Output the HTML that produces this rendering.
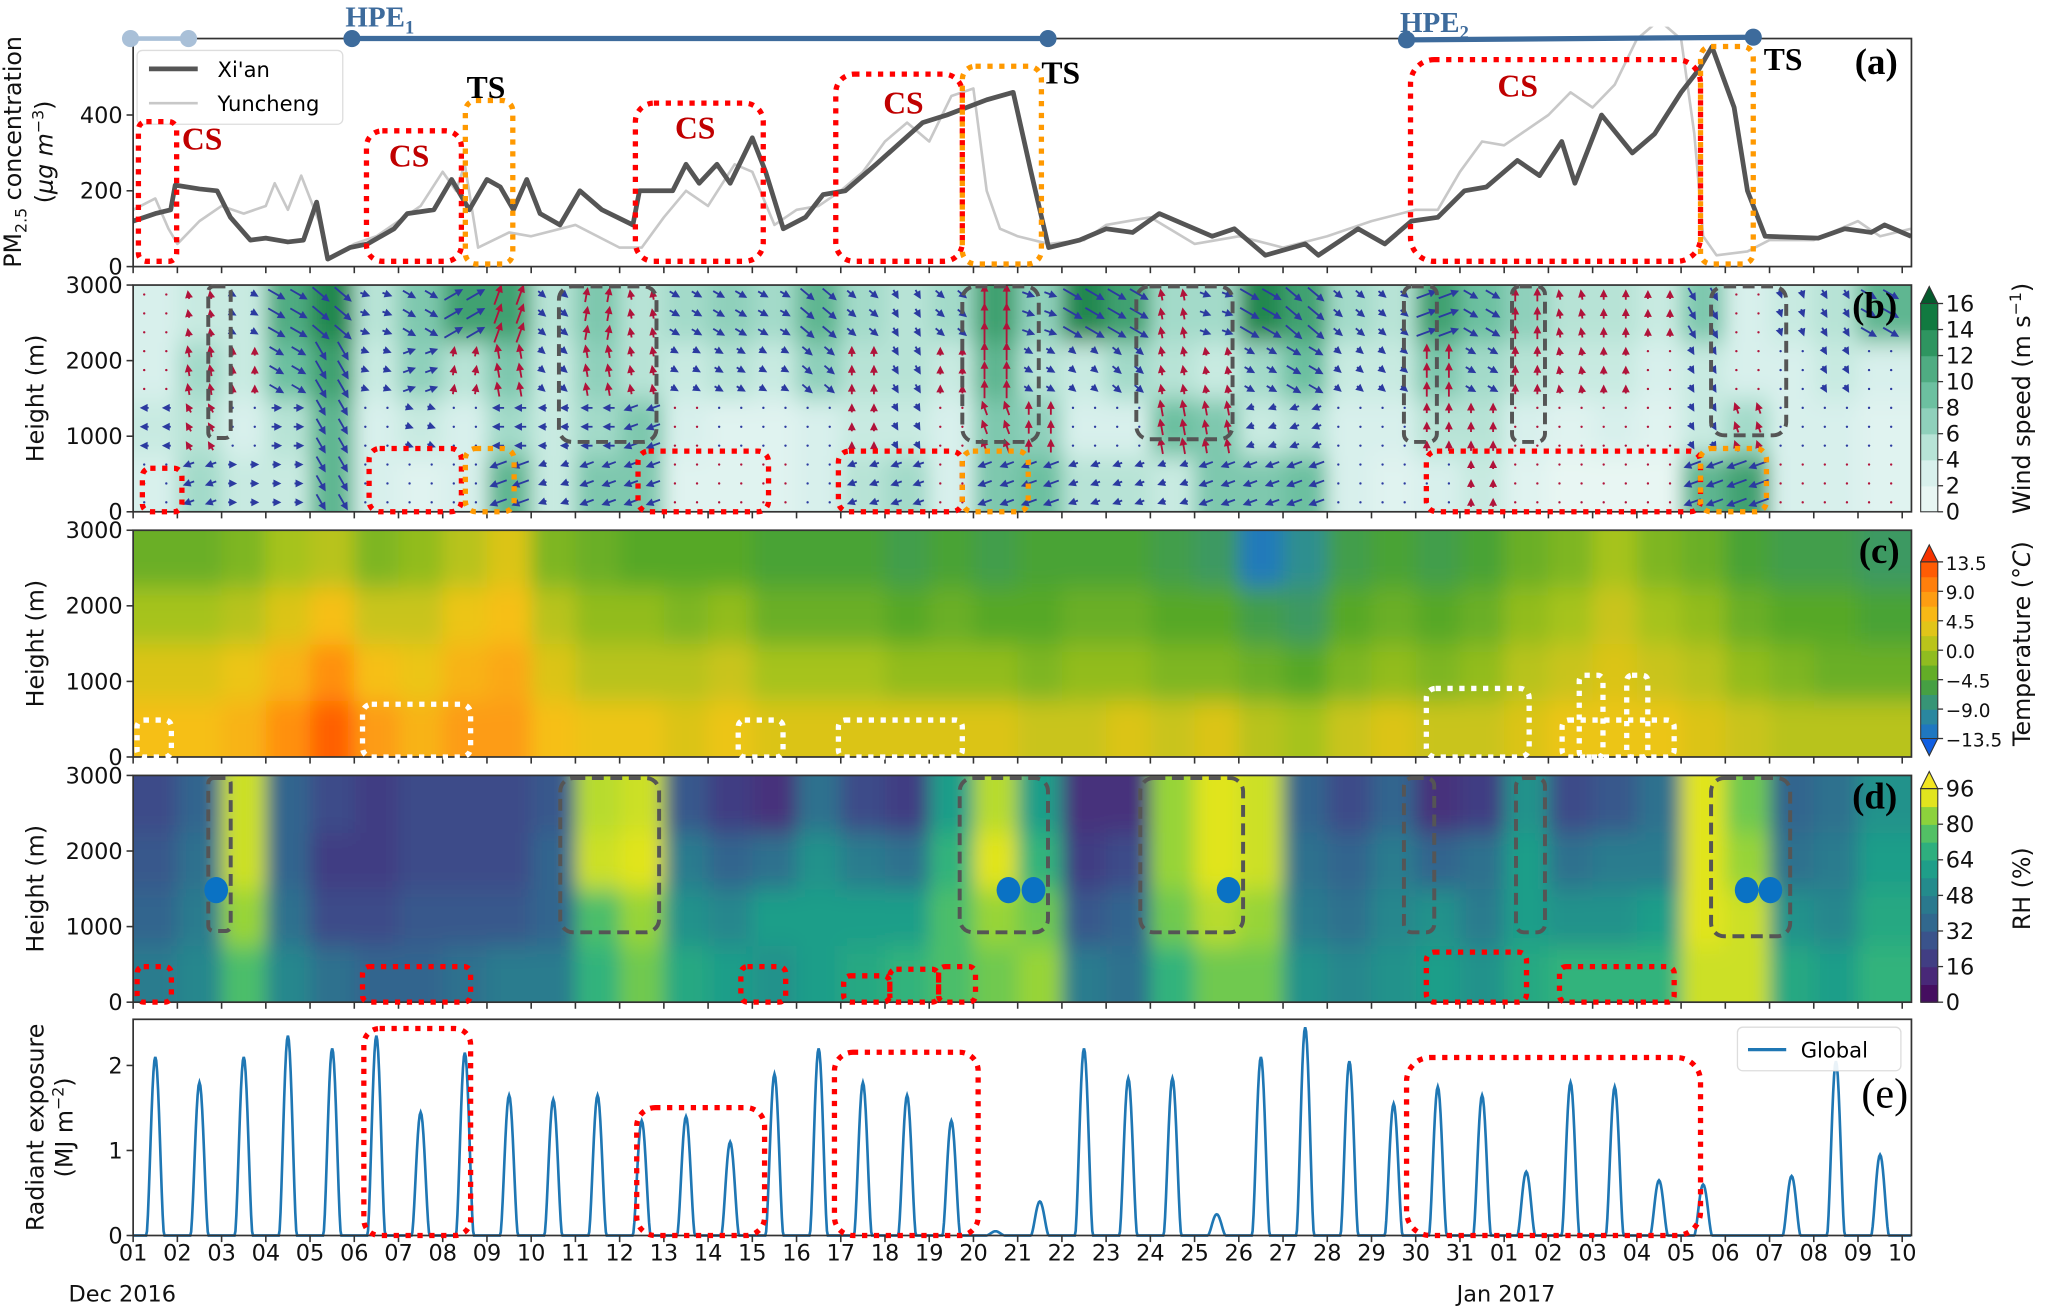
<!DOCTYPE html>
<html><head><meta charset="utf-8"><title>Pollution episode figure</title>
<style>
html,body{margin:0;padding:0;background:#fff;}
svg{display:block;font-family:"DejaVu Sans","Liberation Sans",sans-serif;}
</style></head>
<body>
<svg id="fig" xmlns="http://www.w3.org/2000/svg" width="2067" height="1307" viewBox="0 0 1568 991">
<defs>
<filter id="blur" x="-5%" y="-10%" width="110%" height="120%"><feGaussianBlur stdDeviation="7 9"/></filter>
<clipPath id="clipb"><rect x="101" y="216" width="1349" height="172"/></clipPath>
<clipPath id="clipc"><rect x="101" y="402" width="1349" height="172"/></clipPath>
<clipPath id="clipd"><rect x="101" y="588" width="1349" height="172"/></clipPath>
</defs>
</svg>
<script>
// ---------- DATA ----------
const dayLabels=["01","02","03","04","05","06","07","08","09","10","11","12","13","14","15","16","17","18","19","20","21","22","23","24","25","26","27","28","29","30","31","01","02","03","04","05","06","07","08","09","10"];
const xianDays=[0,0.5,0.85,0.95,1.5,1.9,2.2,2.65,3.0,3.5,3.85,4.15,4.4,4.9,5.3,5.9,6.2,6.8,7.2,7.6,8.0,8.3,8.6,8.9,9.2,9.65,10.1,10.6,11.3,11.45,12.2,12.5,12.8,13.2,13.5,14.0,14.3,14.7,15.2,15.6,16.1,16.8,17.85,18.4,19.3,19.9,20.3,20.7,21.4,22.0,22.6,23.2,24.4,24.9,25.6,26.5,26.8,27.7,28.3,28.9,29.5,30.1,30.6,31.3,31.8,32.3,32.6,33.2,33.9,34.4,35.0,35.4,35.7,36.2,36.5,36.9,38.1,38.7,39.3,39.6,40.2];
const xianVals=[120,140,150,215,205,200,130,70,75,65,70,170,20,50,60,100,140,150,230,150,230,210,150,230,140,110,200,150,110,200,200,270,220,270,220,340,250,100,130,190,200,270,380,400,440,460,250,50,70,100,90,140,80,100,30,60,30,100,60,120,130,200,210,280,240,330,220,400,300,350,460,520,580,420,200,80,75,100,90,110,80];
const ycDays=[0,0.5,0.8,1.0,1.5,2.0,2.5,3.0,3.2,3.5,3.8,4.2,4.4,5.0,5.5,6.0,6.5,7.0,7.3,7.5,7.8,8.5,9.0,10.0,11.0,11.5,12.0,12.5,13.0,13.6,14.0,14.5,15.0,15.5,16.0,16.5,17.0,17.5,18.0,18.5,19.0,19.3,19.6,20.0,20.7,21.5,22.0,23.0,24.0,25.0,26.0,27.0,28.0,29.0,29.5,30.0,30.5,31.0,31.5,32.0,32.5,33.0,33.5,34.0,34.5,35.0,35.3,35.5,35.8,36.5,37.0,38.0,39.0,39.5,40.2];
const ycVals=[150,180,100,60,120,160,140,160,220,150,240,120,20,60,80,120,160,250,200,270,50,90,80,110,50,50,130,200,160,270,250,110,150,160,200,250,330,380,330,450,470,200,100,80,60,70,110,130,60,80,50,80,120,150,150,250,330,320,360,400,460,420,480,600,650,600,350,80,30,40,70,70,120,80,100];
const radPeaks=[2.1,1.8,2.1,2.35,2.2,2.35,1.45,2.15,1.65,1.6,1.65,1.35,1.4,1.1,1.9,2.2,1.8,1.65,1.35,0.05,0.4,2.2,1.85,1.85,0.25,2.1,2.45,2.05,1.55,1.75,1.65,0.75,1.8,1.75,0.65,0.6,0,0.7,2.05,0.95];
const windR0=[3,6,4,4,10,3,2,3,10,4,8,8,2,2,2,3,5,6,3,8,9,5,5,4,8,8,9,3,2,3,4,2,1,1,1,10,12,3,3,2];
const windR1=[4,5,3,5,10,3,4,3,6,4,6,8,3,2,2,3,4,4,3,8,7,3,3,9,8,4,5,3,3,5,5,3,2,3,2,4,6,3,3,2];
const windR2=[3,6,4,9,12,4,7,5,8,4,7,5,4,5,4,7,5,5,4,10,5,4,6,5,4,6,9,4,4,8,6,5,4,4,3,4,3,3,4,3];
const windR3=[3,4,4,11,14,5,8,12,12,5,8,5,6,7,6,10,6,5,6,12,7,14,12,6,6,14,12,6,5,12,9,7,5,5,4,8,3,4,5,10];
const dirR0=[200,200,0,0,-60,200,0,0,200,200,200,200,90,90,90,200,200,200,90,200,200,200,200,200,200,200,200,200,200,200,90,90,90,90,90,200,200,90,90,90];
const dirR1=[180,120,0,0,-60,0,-20,0,180,180,180,200,90,-40,-40,-40,90,-60,90,110,90,-40,-40,100,100,200,200,-40,-40,90,90,90,90,90,90,-60,110,-60,-60,-80];
const dirR2=[100,100,90,-30,-60,-20,20,80,100,-40,100,100,-30,-30,-30,-40,90,-60,90,90,-30,-40,-40,100,100,-30,-30,-40,-40,90,-30,90,100,90,90,-60,110,-60,-60,-80];
const dirR3=[100,100,-30,-30,-40,-20,-30,30,70,-40,80,100,-30,-30,-30,-40,-40,-60,-40,90,-20,-30,-30,100,-20,-30,-40,-40,-40,20,-30,90,100,90,90,-60,100,-70,-60,-30];
const tempR0=[5,5,6,9,12,8,6,8,8,5,4,4,3,4,3,3,3,3,3,3,2,2,3,2,3,1,0,2,3,2,2,3,4,4,4,3,2,1,1,1];
const tempR1=[3,3,4,6,9,5,4,6,7,3,1,1,1,2,0,0,0,-1,-1,-1,-2,-1,-1,-2,-2,-3,-4,-2,-1,-2,-1,1,2,3,2,1,-1,-2,-3,-3];
const tempR2=[0,0,1,3,5,2,2,4,5,1,-1,-1,-2,-1,-3,-3,-3,-4,-3,-4,-4,-3,-3,-4,-4,-6,-7,-4,-3,-4,-3,-1,0,2,0,-1,-3,-4,-4,-5];
const tempR3=[-3,-3,-2,0,1,-2,-1,1,3,-2,-3,-4,-4,-4,-5,-5,-5,-6,-5,-6,-5,-5,-5,-6,-7,-12,-9,-6,-5,-6,-5,-3,-2,0,-2,-3,-5,-6,-6,-7];
const rhR0=[45,50,75,50,40,35,35,40,45,45,70,80,65,60,55,60,65,70,75,80,85,45,40,70,80,80,55,50,55,60,55,65,70,70,70,90,90,65,60,70];
const rhR1=[35,45,85,40,25,25,30,30,30,35,75,85,55,50,60,60,60,60,75,85,80,30,35,80,88,85,45,40,50,55,45,60,55,55,60,92,90,55,50,65];
const rhR2=[30,40,90,35,20,20,25,25,25,35,90,92,45,35,40,55,45,40,70,92,70,20,25,85,92,90,40,35,45,35,40,60,40,45,45,92,85,40,45,60];
const rhR3=[25,35,90,35,25,20,25,25,25,30,88,90,30,20,15,40,25,20,60,88,60,15,15,85,92,90,35,25,35,15,20,55,25,30,40,92,80,35,40,55];
const pmTicks=[0,200,400];
const hTicks=[0,1000,2000,3000];
const radTicks=[0,1,2];
const windCbTicks=[0,2,4,6,8,10,12,14,16];
const tempCbTicks=[-13.5,-9.0,-4.5,0.0,4.5,9.0,13.5];
const rhCbTicks=[0,16,32,48,64,80,96];

// ---------- HELPERS ----------
const NS='http://www.w3.org/2000/svg';
const svg=document.getElementById('fig');
function mk(tag,attrs,parent){const e=document.createElementNS(NS,tag);for(const k in attrs)e.setAttribute(k,attrs[k]);(parent||svg).appendChild(e);return e;}
function txt(s,attrs,parent){const e=mk('text',attrs,parent);e.textContent=s;return e;}
const L=101,R=1450,DX=33.55;
const xd=d=>L+DX*d;
const P={a:[29,202],b:[216,388],c:[402,574],d:[588,760],e:[773,937]};
const yPM=v=>202-v*0.2875;
const yRad=v=>937-v*64.5;
const yH=(p,h)=>P[p][1]-h/3000*(P[p][1]-P[p][0]);
function lerpC(stops,v){
  if(v<=stops[0][0]){const a=stops[0][1];return `rgb(${a[0]},${a[1]},${a[2]})`;}
  for(let i=1;i<stops.length;i++){if(v<=stops[i][0]){const t=(v-stops[i-1][0])/(stops[i][0]-stops[i-1][0]);const a=stops[i-1][1],b=stops[i][1];const c=[0,1,2].map(k=>Math.round(a[k]+(b[k]-a[k])*t));return `rgb(${c[0]},${c[1]},${c[2]})`;}}
  const a=stops[stops.length-1][1];return `rgb(${a[0]},${a[1]},${a[2]})`;}
const windStops=[[0,[240,249,247]],[3,[216,240,236]],[5,[183,227,214]],[7,[143,208,187]],[9,[108,192,160]],[11,[79,172,130]],[13,[46,149,96]],[15,[17,122,64]],[17,[4,90,44]]];
const tempStops=[[-16,[0,70,255]],[-13.5,[26,111,208]],[-9,[47,143,143]],[-4.5,[77,165,42]],[0,[166,195,28]],[4.5,[245,197,24]],[9,[255,144,16]],[13.5,[255,74,0]],[16,[232,16,0]]];
const rhStops=[[0,[68,1,84]],[12,[72,40,120]],[24,[62,73,137]],[36,[49,104,142]],[48,[38,130,142]],[60,[31,158,137]],[72,[53,183,121]],[84,[140,210,60]],[92,[225,228,30]],[100,[253,231,37]]];
const windC=v=>lerpC(windStops,v);
const tempC=v=>lerpC(tempStops,v);
const rhC=v=>lerpC(rhStops,v);

// ---------- HEATMAPS ----------
function heat(p,rows,cfn,name){
  const g=mk('g',{'clip-path':`url(#clip${p})`});
  
  
  const inner=mk('g',{filter:'url(#blur)'},g);
  rows.forEach((row,r)=>{
    row.forEach((v,d)=>{
      let x0=xd(d),x1=xd(d+1);if(d===0)x0-=40;if(d===row.length-1)x1+=60;
      let yT=yH(p,(r+1)*750),yB=yH(p,r*750);if(r===0)yB+=40;if(r===rows.length-1)yT-=40;
      const c=mk('rect',{x:x0,y:yT,width:x1-x0+0.5,height:yB-yT+0.5,fill:cfn(v)},inner);
      
      
    });
  });
  return g;
}
heat('b',[windR0,windR1,windR2,windR3],windC,'wind-speed-field');
heat('c',[tempR0,tempR1,tempR2,tempR3],tempC,'temperature-field');
heat('d',[rhR0,rhR1,rhR2,rhR3],rhC,'rh-field');

// wind arrows
(function(){
  const g=mk('g',{'clip-path':'url(#clipb)'});
  
  
  const spd=[windR0,windR1,windR2,windR3],dir=[dirR0,dirR1,dirR2,dirR3];
  for(let r=0;r<4;r++)for(let d=0;d<40;d++){
    for(let sx=0;sx<2;sx++)for(let sy=0;sy<3;sy++){
      const cx=xd(d+0.25+sx*0.5),cy=yH('b',r*750+125+sy*250);
      const s=spd[r][d],a=dir[r][d]*Math.PI/180;
      const len=Math.min(17,2+s*1.2);
      const red=(dir[r][d]>30&&dir[r][d]<150);
      const col=red?'#b0133a':'#2b3aa0';
      if(s<3.5){const dt=mk('circle',{cx:cx,cy:cy,r:0.9,fill:col},g);continue;}
      const ux=Math.cos(a),uy=-Math.sin(a);
      const tx=cx+ux*len/2,ty=cy+uy*len/2,bx=cx-ux*len/2,by=cy-uy*len/2;
      const hw=3;const px=-uy,py=ux;
      const hx=tx-ux*6,hy=ty-uy*6;
      const pts=`${bx-px*0.7},${by-py*0.7} ${hx-px*0.7},${hy-py*0.7} ${hx-px*hw},${hy-py*hw} ${tx},${ty} ${hx+px*hw},${hy+py*hw} ${hx+px*0.7},${hy+py*0.7} ${bx+px*0.7},${by+py*0.7}`;
      const ar=mk('polygon',{points:pts,fill:col},g);
      
      
    }
  }
})();

// ---------- PANEL A LINES ----------
function poly(days,vals,yf,attrs,name){
  const pts=days.map((d,i)=>`${xd(d).toFixed(1)},${yf(vals[i]).toFixed(1)}`).join(' ');
  const e=mk('polyline',Object.assign({points:pts,fill:'none','stroke-linejoin':'round'},attrs));
  
  
}
const gA=mk('clipPath',{id:'clipa'},svg.querySelector('defs'));mk('rect',{x:L,y:20,width:R-L,height:182},gA);
poly(ycDays,ycVals,yPM,{stroke:'#c8c8c8','stroke-width':2,'clip-path':'url(#clipa)'},'yuncheng-line');
poly(xianDays,xianVals,yPM,{stroke:'#555','stroke-width':3.6,'clip-path':'url(#clipa)'},'xian-line');

// ---------- PANEL E ----------
(function(){
  const pts=[];
  for(let d=0;d<radPeaks.length;d++){
    for(let k=0;k<48;k++){const t=d+k/48;const dt=Math.abs(t-(d+0.5));let v=0;if(dt<0.2){v=radPeaks[d]*Math.pow(Math.cos(dt/0.2*Math.PI/2),1.6);}pts.push(`${xd(t).toFixed(1)},${yRad(v).toFixed(1)}`);}
  }
  pts.push(`${xd(40.2).toFixed(1)},${yRad(0)}`);
  const e=mk('polyline',{points:pts.join(' '),fill:'none',stroke:'#1f77b4','stroke-width':2});
  
  
})();

// ---------- AXES FRAMES & TICKS ----------
['a','b','c','d','e'].forEach(p=>{
  const [t,b]=P[p];
  const f=mk('rect',{x:L,y:t,width:R-L,height:b-t,fill:'none',stroke:'#333','stroke-width':1.3});
  
  
  for(let d=0;d<=40;d++){const tk=mk('line',{x1:xd(d),x2:xd(d),y1:b,y2:b+5,stroke:'#333','stroke-width':1.2});}
});
function yticks(vals,yf,fmt){
  vals.forEach(v=>{const y=yf(v);
    const tk=mk('line',{x1:L-5,x2:L,y1:y,y2:y,stroke:'#333','stroke-width':1.2});
    const tl=txt(fmt(v),{x:L-8,y:y+6,'font-size':17,'text-anchor':'end',fill:'#111'});});
}
yticks(pmTicks,yPM,String);
['b','c','d'].forEach(p=>yticks(hTicks,h=>yH(p,h),String));
yticks(radTicks,yRad,String);
dayLabels.forEach((s,i)=>{const t=txt(s,{x:xd(i),y:956,'font-size':17,'text-anchor':'middle',fill:'#111'});});
</script>

<svg style="position:absolute;left:0;top:0" width="2067" height="1307" viewBox="0 0 1568 991" xmlns="http://www.w3.org/2000/svg">
<g fill="#111">
<text transform="translate(16,115) rotate(-90)" text-anchor="middle" font-size="18">PM<tspan font-size="12" dy="4">2.5</tspan><tspan dy="-4"> concentration</tspan></text>
<text transform="translate(40,115) rotate(-90)" text-anchor="middle" font-size="18">(<tspan font-style="italic">μg m</tspan><tspan font-size="12" dy="-7">−3</tspan><tspan dy="7">)</tspan></text>
<text transform="translate(33,302) rotate(-90)" text-anchor="middle" font-size="18">Height (m)</text>
<text transform="translate(33,488) rotate(-90)" text-anchor="middle" font-size="18">Height (m)</text>
<text transform="translate(33,674) rotate(-90)" text-anchor="middle" font-size="18">Height (m)</text>
<text transform="translate(33,855) rotate(-90)" text-anchor="middle" font-size="18">Radiant exposure</text>
<text transform="translate(55,855) rotate(-90)" text-anchor="middle" font-size="18">(MJ m<tspan font-size="12" dy="-7">−2</tspan><tspan dy="7">)</tspan></text>
<text x="52" y="987" font-size="17">Dec  2016</text>
<text x="1105" y="987" font-size="17">Jan  2017</text>
</g>

<g>
<line x1="99" y1="29" x2="143" y2="29" stroke="#a9c0d8" stroke-width="3.5"/>
<circle cx="99" cy="29" r="6.5" fill="#a9c0d8"/><circle cx="143" cy="29" r="6.5" fill="#a9c0d8"/>
<line x1="267" y1="29" x2="795" y2="29" stroke="#3d6b9c" stroke-width="4"/>
<circle cx="267" cy="29" r="6.5" fill="#3d6b9c"/><circle cx="795" cy="29" r="6.5" fill="#3d6b9c"/>
<line x1="1067" y1="30" x2="1330" y2="28" stroke="#3d6b9c" stroke-width="4"/>
<circle cx="1067" cy="30" r="6.5" fill="#3d6b9c"/><circle cx="1330" cy="28" r="6.5" fill="#3d6b9c"/>
<text x="262" y="20" font-size="22" fill="#3d6b9c" font-family="Liberation Serif, serif" font-weight="bold">HPE<tspan font-size="14" dy="5">1</tspan></text>
<text x="1062" y="24" font-size="22" fill="#3d6b9c" font-family="Liberation Serif, serif" font-weight="bold">HPE<tspan font-size="14" dy="5">2</tspan></text>
</g>

<g>
<rect x="104" y="38" width="156" height="56" rx="4" fill="#fff" fill-opacity="0.85" stroke="#ddd"/>
<line x1="113" y1="52" x2="150" y2="52" stroke="#555" stroke-width="3.6"/>
<text x="165" y="58" font-size="16">Xi'an</text>
<line x1="113" y1="78" x2="150" y2="78" stroke="#c8c8c8" stroke-width="2"/>
<text x="165" y="84" font-size="16">Yuncheng</text>
</g>

<g fill="none" stroke-linecap="butt">
<g stroke="#f00" stroke-width="4" stroke-dasharray="4 5">
<rect x="105" y="92" width="29" height="106" rx="6"/><rect x="278" y="99" width="72" height="99" rx="12"/><rect x="482" y="78" width="97" height="120" rx="14"/><rect x="634" y="56" width="96" height="142" rx="14"/><rect x="1070" y="45" width="220" height="153" rx="18"/>
</g>
<g stroke="#ff9900" stroke-width="4" stroke-dasharray="4 5">
<rect x="353" y="76" width="36" height="124" rx="8"/><rect x="730" y="50" width="60" height="150" rx="10"/><rect x="1290" y="35" width="40" height="165" rx="8"/>
</g>
<g stroke="#f00" stroke-width="4" stroke-dasharray="4 5">
<rect x="108" y="355" width="30" height="33" rx="6"/><rect x="280" y="340" width="70" height="48" rx="8"/><rect x="484" y="342" width="99" height="46" rx="8"/><rect x="636" y="342" width="94" height="46" rx="8"/><rect x="1082" y="342" width="208" height="46" rx="8"/>
</g>
<g stroke="#ff9900" stroke-width="4" stroke-dasharray="4 5">
<rect x="353" y="340" width="37" height="48" rx="8"/><rect x="730" y="342" width="50" height="46" rx="8"/><rect x="1290" y="340" width="50" height="48" rx="8"/>
</g>
<g stroke="#555" stroke-width="3" stroke-dasharray="9 5">
<rect x="158" y="217" width="17" height="115" rx="4"/><rect x="424" y="217" width="74" height="118" rx="10"/><rect x="730" y="217" width="58" height="118" rx="10"/><rect x="862" y="217" width="73" height="116" rx="10"/><rect x="1065" y="217" width="25" height="118" rx="6"/><rect x="1147" y="217" width="25" height="118" rx="6"/><rect x="1298" y="217" width="57" height="113" rx="10"/>
</g>
<g stroke="#fff" stroke-width="4" stroke-dasharray="4 5">
<rect x="104" y="546" width="26" height="28" rx="5"/><rect x="275" y="534" width="82" height="40" rx="7"/><rect x="560" y="546" width="34" height="28" rx="5"/><rect x="636" y="546" width="94" height="28" rx="5"/><rect x="1082" y="522" width="78" height="52" rx="7"/><rect x="1198" y="512" width="18" height="62" rx="4"/><rect x="1234" y="512" width="16" height="62" rx="4"/><rect x="1185" y="546" width="85" height="28" rx="5"/>
</g>
<g stroke="#555" stroke-width="3" stroke-dasharray="9 5">
<rect x="158" y="590" width="17" height="116" rx="4"/><rect x="425" y="590" width="75" height="117" rx="10"/><rect x="728" y="590" width="67" height="117" rx="10"/><rect x="865" y="590" width="78" height="117" rx="10"/><rect x="1065" y="590" width="23" height="117" rx="6"/><rect x="1150" y="590" width="22" height="117" rx="6"/><rect x="1298" y="590" width="60" height="120" rx="10"/>
</g>
<g stroke="#f00" stroke-width="4" stroke-dasharray="4 5">
<rect x="104" y="733" width="26" height="27" rx="5"/><rect x="275" y="733" width="82" height="27" rx="5"/><rect x="562" y="733" width="34" height="27" rx="5"/><rect x="640" y="740" width="35" height="20" rx="5"/><rect x="675" y="735" width="37" height="25" rx="5"/><rect x="712" y="733" width="28" height="27" rx="5"/><rect x="1082" y="722" width="76" height="38" rx="6"/><rect x="1183" y="733" width="87" height="27" rx="5"/>
</g>
<g stroke="#f00" stroke-width="4" stroke-dasharray="4 5">
<rect x="276" y="780" width="81" height="157" rx="12"/><rect x="483" y="840" width="97" height="97" rx="14"/><rect x="633" y="798" width="109" height="139" rx="14"/><rect x="1067" y="802" width="223" height="135" rx="18"/>
</g>
</g>
<g fill="#0a72c4">
<ellipse cx="164" cy="675" rx="9" ry="10"/><ellipse cx="765" cy="675" rx="9" ry="10"/><ellipse cx="784" cy="675" rx="9" ry="10"/><ellipse cx="932" cy="675" rx="9" ry="10"/><ellipse cx="1325" cy="675" rx="9" ry="10"/><ellipse cx="1343" cy="675" rx="9" ry="10"/>
</g>

<g font-family="Liberation Serif, serif" font-weight="bold" font-size="24">
<text x="138" y="113" fill="#c00000">CS</text>
<text x="295" y="126" fill="#c00000">CS</text>
<text x="512" y="105" fill="#c00000">CS</text>
<text x="670" y="86" fill="#c00000">CS</text>
<text x="1136" y="73" fill="#c00000">CS</text>
<text x="354" y="74" fill="#000">TS</text>
<text x="790" y="63" fill="#000">TS</text>
<text x="1338" y="53" fill="#000">TS</text>
</g>
<g font-family="Liberation Serif, serif" font-weight="bold" font-size="28" fill="#000">
<text x="1407" y="56">(a)</text>
<text x="1405" y="241">(b)</text>
<text x="1410" y="427">(c)</text>
<text x="1405" y="613">(d)</text>
<text x="1412" y="840" font-weight="normal" font-size="32">(e)</text>
</g>

<g>
<rect x="1318" y="779" width="124" height="33" rx="4" fill="#fff" fill-opacity="0.9" stroke="#ddd"/>
<line x1="1326" y1="796" x2="1355" y2="796" stroke="#1f77b4" stroke-width="2.5"/>
<text x="1366" y="802" font-size="16">Global</text>
</g>
<g id="cbars"></g>
</svg>
<script>
(function(){
  const NS='http://www.w3.org/2000/svg';
  const host=document.getElementById('cbars');
  function mk(tag,attrs){const e=document.createElementNS(NS,tag);for(const k in attrs)e.setAttribute(k,attrs[k]);host.appendChild(e);return e;}
  const cx0=1457,cw=13;
  function cbar(name,y0,y1,lo,hi,nb,cfn,ticks,fmt,topTri,botTri,title,ty,fs){
    const band=(y0-y1)/nb;
    for(let i=0;i<nb;i++){const v=lo+(hi-lo)*(i+0.5)/nb;const r=mk('rect',{x:cx0,y:y0-(i+1)*band,width:cw,height:band+0.5,fill:cfn(v)});}
    if(topTri){const t=mk('polygon',{points:`${cx0},${y1} ${cx0+cw},${y1} ${cx0+cw/2},${y1-13}`,fill:cfn(hi+1),stroke:'#333','stroke-width':0.8});}
    if(botTri){const t=mk('polygon',{points:`${cx0},${y0} ${cx0+cw},${y0} ${cx0+cw/2},${y0+13}`,fill:cfn(lo-1),stroke:'#333','stroke-width':0.8});}
    const f=mk('rect',{x:cx0,y:y1,width:cw,height:y0-y1,fill:'none',stroke:'#333','stroke-width':0.8});
    ticks.forEach(v=>{const y=y0-(v-lo)/(hi-lo)*(y0-y1);
      const tk=mk('line',{x1:cx0+cw,x2:cx0+cw+4,y1:y,y2:y,stroke:'#333'});
      const t=mk('text',{x:cx0+cw+6,y:y+6,'font-size':fs,fill:'#111'});t.textContent=fmt(v);});
    const tt=mk('text',{transform:`translate(1540,${ty}) rotate(-90)`,'text-anchor':'middle','font-size':18,fill:'#111'});tt.innerHTML=title;
  }
  cbar('wind-colorbar',388,230,0,16,8,windC,windCbTicks,String,true,false,'Wind speed (m s<tspan font-size="12" dy="-7">−1</tspan><tspan dy="7">)</tspan>',302,17);
  cbar('temp-colorbar',560,426,-13.5,13.5,12,tempC,tempCbTicks,v=>v.toFixed(1).replace('-','−'),true,true,'Temperature (°<tspan font-style="italic">C</tspan>)',488,14);
  cbar('rh-colorbar',760,598,0,96,12,rhC,rhCbTicks,String,true,false,'RH (%)',674,17);
})();
</script>
</body></html>
